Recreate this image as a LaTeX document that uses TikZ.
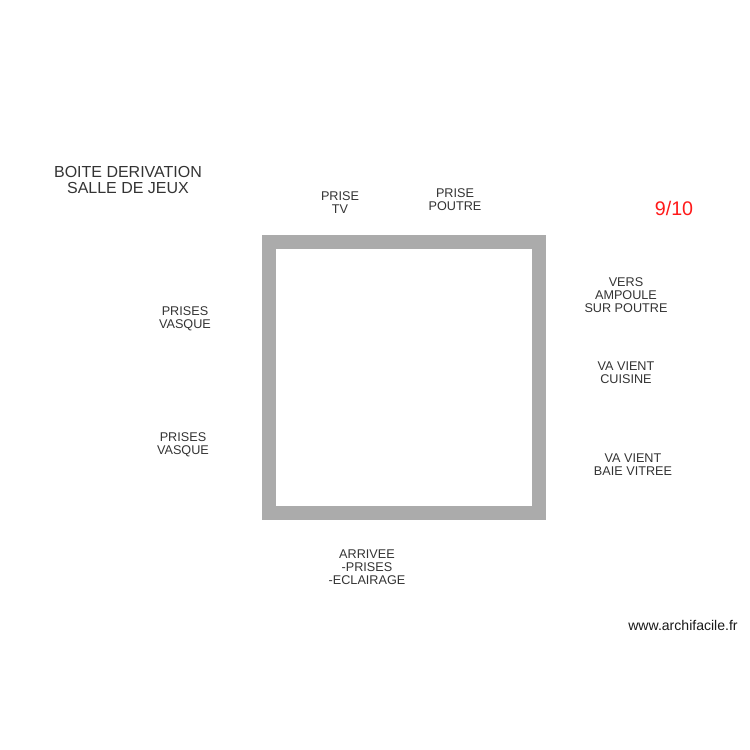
\documentclass[tikz,border=0pt]{standalone}
\usepackage{fontspec}
\setmainfont{Liberation Sans}

\tikzset{
	label/.style = {align = center, inner sep = 0pt, text = black!80,
		font = \fontsize{7.2}{7.4}\selectfont},
	wall/.style = {draw = black!33, line width = 14 * 0.567pt}
}

\begin{document}
\begin{tikzpicture}[x = 0.02cm, y = -0.02cm]

	\useasboundingbox (0, 0) rectangle (750, 750);

	% Box
	
	\draw [wall] (269, 242) rectangle (539, 513);
	
	% Title and page
	
	\node [label, font = \fontsize{9.1}{8.6}\selectfont] (title) at (128, 180) {BOITE DERIVATION\\SALLE DE JEUX};
	\node [label, text = red!90!white, font = \fontsize{11.2}{11.2}\selectfont] (page) at (674, 208) {9/10};
	
	% Labels
	
	\node [label] (tv) at (340, 202.5) {PRISE\\TV};
	\node [label] (poutre) at (455, 199.5) {PRISE\\POUTRE};
	\node [label] (ampoule) at (626, 295) {VERS\\AMPOULE\\SUR POUTRE};
	\node [label] (cuisine) at (626, 372.5) {VA VIENT\\CUISINE};
	\node [label] (baie) at (633, 464.5) {VA VIENT\\BAIE VITREE};
	\node [label] (vasqueA) at (185, 318.5) {PRISES\\VASQUE};
	\node [label] (vasqueB) at (183, 444.5) {PRISES\\VASQUE};
	\node [label] (arrivee) at (367, 567) {ARRIVEE\\-PRISES\\-ECLAIRAGE};
	
	\node [label, text = black!90, font = \fontsize{8}{8}\selectfont] (site) at (683, 625) {www.archifacile.fr};

\end{tikzpicture}
\end{document}
